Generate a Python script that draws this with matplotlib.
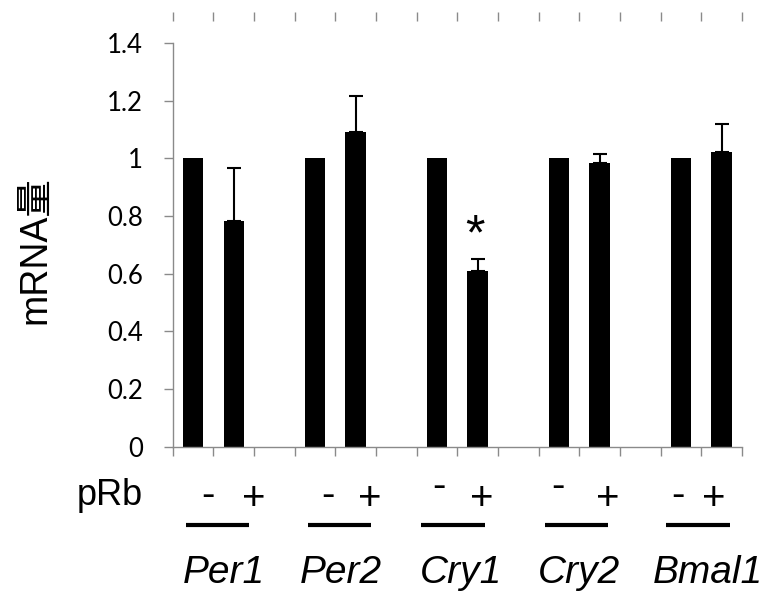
import matplotlib
matplotlib.use('Agg')
import matplotlib.pyplot as plt
import matplotlib.transforms as mtransforms
import numpy as np

# data
genes = ['Per1', 'Per2', 'Cry1', 'Cry2', 'Bmal1']
control = [1.0, 1.0, 1.0, 1.0, 1.0]
prb = [0.784, 1.093, 0.610, 0.983, 1.021]
prb_err = [0.182, 0.124, 0.041, 0.032, 0.098]
signs = ['-', '+']
y_ticks = [0, 0.2, 0.4, 0.6, 0.8, 1.0, 1.2, 1.4]
y_tick_labels = ['0', '0.2', '0.4', '0.6', '0.8', '1', '1.2', '1.4']

gray = '#8a8a8a'
fig = plt.figure(figsize=(7.75, 5.94), dpi=100)
ax = fig.add_axes([0.2228, 0.248, 0.7346, 0.6796])

# bar positions: "-" at 3g, "+" at 3g+1, empty slot in between groups
x_minus = np.arange(len(genes)) * 3
x_plus = x_minus + 1

ax.bar(x_minus, control, width=0.5, color='black')
ax.bar(x_plus, prb, width=0.5, color='black')
ax.errorbar(x_plus, prb, yerr=[np.zeros(len(prb)), prb_err], fmt='none',
            ecolor='black', elinewidth=1.5, capsize=5, capthick=1.5)

# significance star on Cry1
i = genes.index('Cry1')
ax.annotate('*', (x_plus[i], prb[i] + prb_err[i]), xytext=(-2, 16),
            textcoords='offset points', ha='center', va='center',
            fontsize=36, family='Liberation Sans')

ax.set_xlim(-0.5, 13.5)
ax.set_ylim(0, 1.4)
bounds = np.arange(-0.5, 14, 1)
ax.set_xticks(bounds)
ax.set_xticklabels([])
ax.set_yticks(y_ticks)
ax.set_yticklabels(y_tick_labels)
ax.tick_params(axis='both', color=gray, length=6.5, width=1)
ax.tick_params(axis='y', pad=15, labelsize=18.5, labelfontfamily='Lato')
for s in ['top', 'right']:
    ax.spines[s].set_visible(False)
for s in ['left', 'bottom']:
    ax.spines[s].set_color(gray)
    ax.spines[s].set_linewidth(1)

# stray tick row above the plot
top = ax.secondary_xaxis(1.054)
top.set_xticks(bounds)
top.set_xticklabels([])
top.tick_params(color=gray, length=6.5, width=1, direction='out')
top.spines['top'].set_visible(False)

fig.text(35 / 775, 1 - 250 / 594, 'mRNA量', rotation=90,
         ha='center', va='center', fontsize=27,
         family=['Liberation Sans', 'Noto Sans CJK JP'])

# labels under the axis
trans = mtransforms.blended_transform_factory(ax.transData, fig.transFigure)
def fy(px):
    return 1 - px / 594

fig.text(143 / 775, fy(505), 'pRb', ha='right', va='baseline',
         fontsize=26, family='Liberation Sans')
minus_shift = [0.37, 0.32, 0.05, -0.02, -0.07]
minus_base = [506, 506, 497, 497, 506]
plus_shift = [0.5, 0.35, 0.1, 0.2, -0.2]
line_center = [0.6, 3.6, 6.39, 9.43, 12.42]
name_center = [0.75, 3.64, 6.6, 9.5, 12.66]
for g in range(len(genes)):
    ax.text(x_minus[g] + minus_shift[g], fy(minus_base[g]), signs[0],
            transform=trans, ha='center', va='baseline', fontsize=29,
            family='Liberation Sans')
    ax.text(x_plus[g] + plus_shift[g], fy(510), signs[1],
            transform=trans, ha='center', va='baseline', fontsize=29,
            family='Liberation Sans')
    ax.plot([line_center[g] - 0.78, line_center[g] + 0.78], [fy(525)] * 2,
            transform=trans, color='black', lw=3, clip_on=False,
            solid_capstyle='butt')
    ax.text(name_center[g], fy(583), genes[g], transform=trans,
            ha='center', va='baseline', fontsize=28, style='italic',
            family='Liberation Sans')

fig.savefig('out.png', dpi=100)
